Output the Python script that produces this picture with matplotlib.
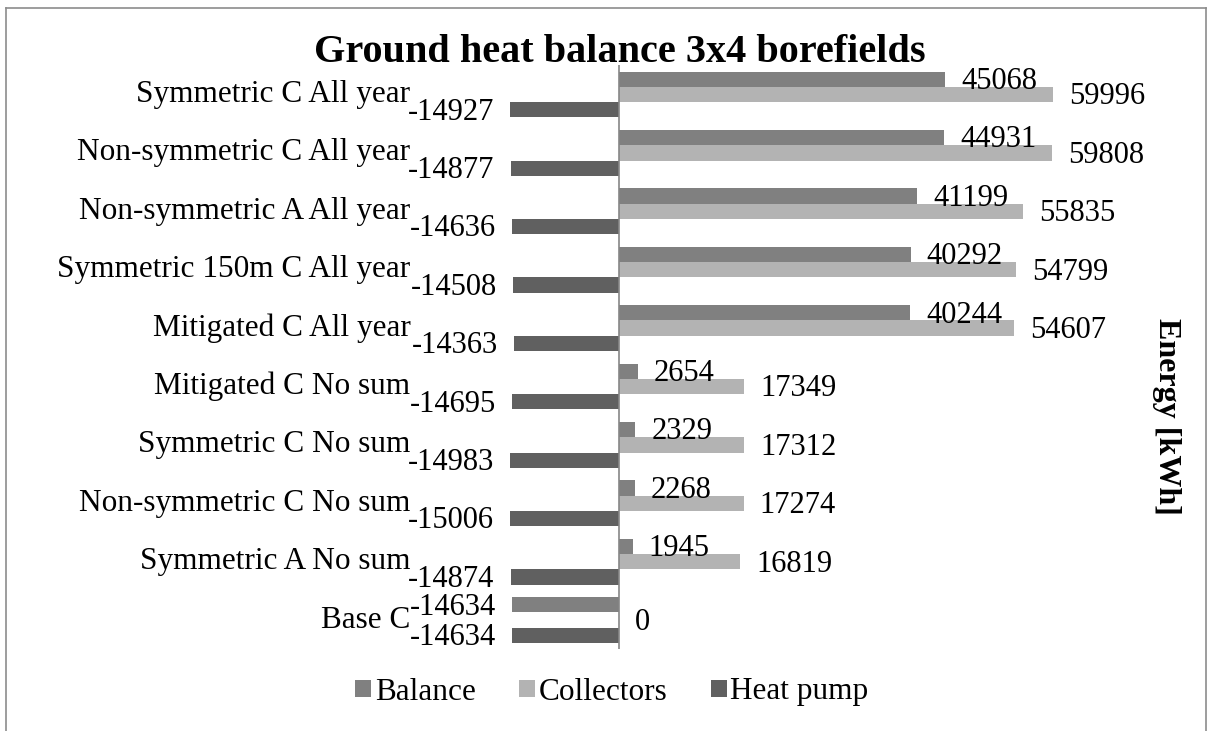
import matplotlib
matplotlib.use("Agg")
import matplotlib.pyplot as plt
import numpy as np
from matplotlib.lines import Line2D
from matplotlib.patches import Patch

categories = [
    "Symmetric C All year",
    "Non-symmetric C All year",
    "Non-symmetric A All year",
    "Symmetric 150m C All year",
    "Mitigated C All year",
    "Mitigated C No sum",
    "Symmetric C No sum",
    "Non-symmetric C No sum",
    "Symmetric A No sum",
    "Base C",
]
balance = [45068, 44931, 41199, 40292, 40244, 2654, 2329, 2268, 1945, -14634]
collectors = [59996, 59808, 55835, 54799, 54607, 17349, 17312, 17274, 16819, 0]
heat_pump = [-14927, -14877, -14636, -14508, -14363, -14695, -14983, -15006, -14874, -14634]

series = [("Balance", balance, "#808080"),
          ("Collectors", collectors, "#b3b3b3"),
          ("Heat pump", heat_pump, "#606060")]

plt.rcParams["font.family"] = ["Liberation Serif", "DejaVu Serif"]

W, H = 1209, 731
fig = plt.figure(figsize=(W / 100, H / 100), dpi=100)

# plot area in pixels
left_px, right_px = 401, 1126
top_px, bot_px = 65.3, 649.3
ax = fig.add_axes([left_px / W, 1 - bot_px / H, (right_px - left_px) / W, (bot_px - top_px) / H])
ax.set_xlim(-30000, 70000)
n = len(categories)
ax.set_ylim(n - 0.5, -0.5)

bh = 0.262
y = np.arange(n)
offsets = [-bh, 0, bh]
px_per_unit = (right_px - left_px) / 100000.0
gap = 16 / px_per_unit

for (name, vals, col), off in zip(series, offsets):
    ax.barh(y + off, vals, height=bh, color=col, linewidth=0)
    for yi, v in zip(y, vals):
        if v >= 0:
            ax.text(v + gap, yi + off + 0.04, f"{v}", ha="left", va="center", fontsize=22)
        else:
            ax.text(v - gap, yi + off + 0.04, f"{v}", ha="right", va="center", fontsize=22)

for yi, c in zip(y, categories):
    ax.text(-28700, yi, c, ha="right", va="center", fontsize=22.5)

ax.axvline(0, color="#868686", lw=1.2)
for s in ax.spines.values():
    s.set_visible(False)
ax.set_xticks([])
ax.set_yticks([])

fig.text(620 / W, 1 - 53 / H, "Ground heat balance 3x4 borefields", ha="center", va="center",
         fontsize=29, fontweight="bold")
fig.text(1166 / W, 1 - 416 / H, "Energy [kWh]", ha="center", va="center",
         rotation=270, fontsize=23, fontweight="bold")

handles = [Patch(facecolor=col, edgecolor="none", label=name) for name, _, col in series]
fig.legend(handles=handles, loc="center", bbox_to_anchor=(612 / W, 1 - 692 / H), ncol=3,
           frameon=False, fontsize=22.5, handlelength=0.5, handleheight=0.5,
           handletextpad=0.12, columnspacing=1.4)

# chart border
bc = "#8c8c8c"
fig.add_artist(Line2D([6 / W, 6 / W], [0, 1 - 8 / H], transform=fig.transFigure, color=bc, lw=1.2))
fig.add_artist(Line2D([6 / W, 1206 / W], [1 - 8 / H, 1 - 8 / H], transform=fig.transFigure, color=bc, lw=1.2))
fig.add_artist(Line2D([1206 / W, 1206 / W], [0, 1 - 8 / H], transform=fig.transFigure, color=bc, lw=1.2))

fig.savefig("out.png", dpi=100, facecolor="white")
